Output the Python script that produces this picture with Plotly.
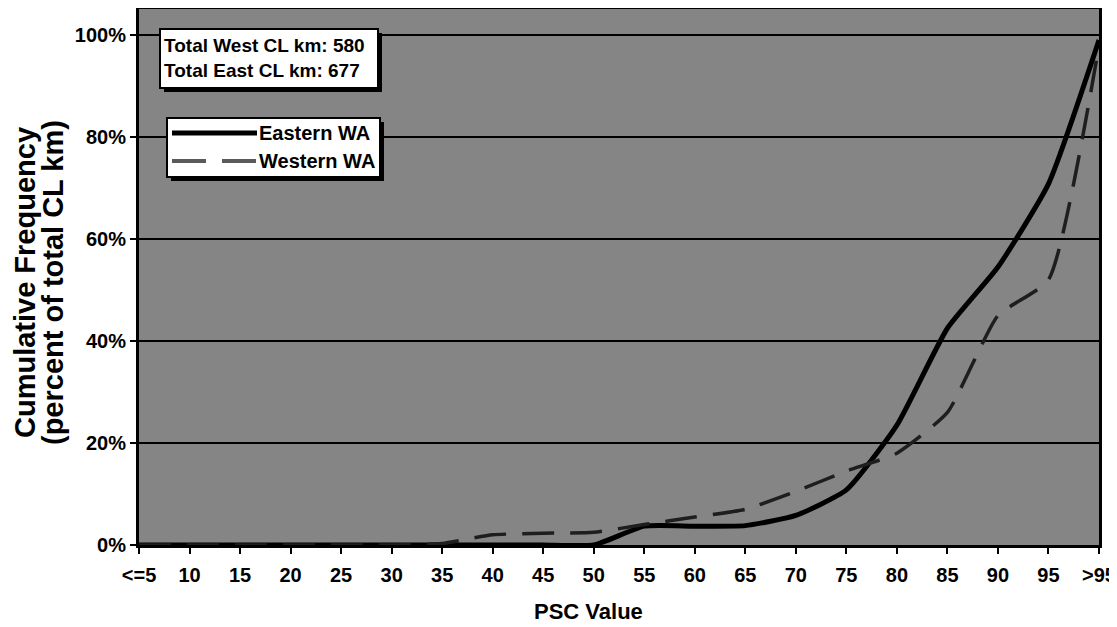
import plotly.graph_objects as go

# ---- data ----
categories = ["<=5", "10", "15", "20", "25", "30", "35", "40", "45", "50",
              "55", "60", "65", "70", "75", "80", "85", "90", "95", ">95"]
eastern_wa = [0, 0, 0, 0, 0, 0, 0, 0, 0, 0,
              3.7, 3.7, 3.8, 5.8, 10.8, 23.5, 42.5, 54.5, 70.8, 99.0]
western_wa = [0, 0, 0, 0, 0, 0, 0.3, 2.0, 2.3, 2.5,
              4.0, 5.5, 7.0, 10.5, 14.5, 18.0, 26.0, 45.0, 52.0, 98.0]
y_ticks = [0, 0.2, 0.4, 0.6, 0.8, 1.0]
totals_text = ["Total West CL km: 580", "Total East CL km: 677"]
series_names = ["Eastern WA", "Western WA"]
y_title_lines = ["Cumulative Frequency", "(percent of total CL km)"]
x_title = "PSC Value"

FONT = "Arial, Liberation Sans, sans-serif"
OFF = 8                      # the page body margin shifts the figure by 8px
W, H = 1117 - OFF, 627 - OFF
PLOT_L, PLOT_R, PLOT_T, PLOT_B = 139, 1099, 9, 545   # screen pixels of plot area
L = PLOT_L - OFF
T = PLOT_T - OFF
R = W - (PLOT_R - OFF)
B = H - (PLOT_B - OFF)
PW, PH = W - L - R, H - T - B


def px_x(px):
    return (px - OFF - L) / PW


def px_y(py):
    return (H - B - (py - OFF)) / PH


fig = go.Figure()
fig.add_trace(go.Scatter(
    x=categories, y=[v / 100 for v in eastern_wa], name=series_names[0],
    mode="lines", line=dict(color="black", width=5, shape="spline", smoothing=0.5),
    showlegend=False))
fig.add_trace(go.Scatter(
    x=categories, y=[v / 100 for v in western_wa], name=series_names[1],
    mode="lines", line=dict(color="#1e1e1e", width=3.5, dash="32px,16px",
                            shape="spline", smoothing=0.5),
    showlegend=False))

shapes = []
annotations = []

# totals box (shadow + white box + text)
bx0, bx1, by0, by1 = 160, 378, 29, 88
shapes.append(dict(type="rect", xref="paper", yref="paper", layer="above",
                   x0=px_x(bx0 + 4), x1=px_x(bx1 + 4), y0=px_y(by1 + 4), y1=px_y(by0 + 4),
                   fillcolor="black", line=dict(width=0)))
shapes.append(dict(type="rect", xref="paper", yref="paper", layer="above",
                   x0=px_x(bx0), x1=px_x(bx1), y0=px_y(by1), y1=px_y(by0),
                   fillcolor="white", line=dict(color="black", width=2)))
annotations.append(dict(xref="paper", yref="paper", x=px_x(bx0 + 2), y=px_y((by0 + by1) / 2),
                        xanchor="left", yanchor="middle", align="left", showarrow=False,
                        text="<br>".join("<b>%s</b>" % t for t in totals_text),
                        font=dict(family=FONT, size=19, color="black")))

# custom legend box (long line samples as in the reference)
lx0, lx1, ly0, ly1 = 167, 380, 118, 177
shapes.append(dict(type="rect", xref="paper", yref="paper", layer="above",
                   x0=px_x(lx0 + 4), x1=px_x(lx1 + 4), y0=px_y(ly1 + 4), y1=px_y(ly0 + 4),
                   fillcolor="black", line=dict(width=0)))
shapes.append(dict(type="rect", xref="paper", yref="paper", layer="above",
                   x0=px_x(lx0), x1=px_x(lx1), y0=px_y(ly1), y1=px_y(ly0),
                   fillcolor="white", line=dict(color="black", width=2)))
row_y = [133, 161]
styles = [dict(color="black", width=5),
          dict(color="#5a5a5a", width=4, dash="34px,16px")]
for name, yy, st in zip(series_names, row_y, styles):
    shapes.append(dict(type="line", xref="paper", yref="paper", layer="above",
                       x0=px_x(172), x1=px_x(257), y0=px_y(yy), y1=px_y(yy), line=st))
    annotations.append(dict(xref="paper", yref="paper", x=px_x(257), y=px_y(yy),
                            xanchor="left", yanchor="middle", showarrow=False,
                            text="<b>%s</b>" % name,
                            font=dict(family=FONT, size=20, color="black")))

# axis titles as free text (two separate rotated lines, off-centre x title)
for txt, xx in zip(y_title_lines, [25, 53]):
    annotations.append(dict(xref="paper", yref="paper", x=px_x(xx), y=px_y(283),
                            xanchor="center", yanchor="middle", showarrow=False,
                            textangle=-90, text="<b>%s</b>" % txt,
                            font=dict(family=FONT, size=29, color="black")))
annotations.append(dict(xref="paper", yref="paper", x=px_x(588), y=px_y(611),
                        xanchor="center", yanchor="middle", showarrow=False,
                        text="<b>%s</b>" % x_title,
                        font=dict(family=FONT, size=22, color="black")))

fig.update_layout(
    width=W, height=H,
    margin=dict(l=L, r=R, t=T, b=B, autoexpand=False),
    paper_bgcolor="white",
    plot_bgcolor="#858585",
    font=dict(family=FONT, color="black"),
    shapes=shapes,
    annotations=annotations,
    xaxis=dict(
        type="category", range=[0, len(categories) - 1], automargin=False,
        showgrid=False, zeroline=False,
        showline=True, linecolor="black", linewidth=3, mirror=True,
        ticks="outside", ticklen=6, tickwidth=2, tickcolor="black",
        ticklabelstandoff=4,
        tickfont=dict(family=FONT, size=20, color="black", weight="bold"),
    ),
    yaxis=dict(
        range=[0, 1.051], tickvals=y_ticks, tickformat=".0%", automargin=False,
        showgrid=True, gridcolor="black", gridwidth=1.5, zeroline=False,
        showline=True, linecolor="black", linewidth=3, mirror=True,
        ticks="outside", ticklen=6, tickwidth=2, tickcolor="black",
        tickfont=dict(family=FONT, size=20, color="black", weight="bold"),
    ),
)

fig.write_html("out.html")
